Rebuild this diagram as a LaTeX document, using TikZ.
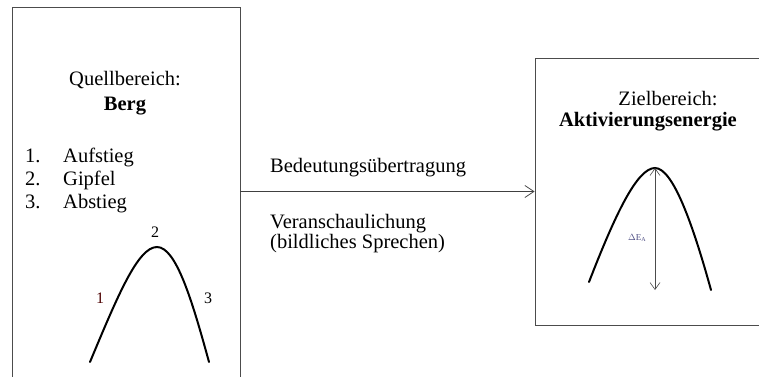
\documentclass[tikz,border=0pt]{standalone}
\usepackage{fontspec}
\setmainfont{Liberation Serif}
\usetikzlibrary{positioning,arrows.meta}
\begin{document}
\begin{tikzpicture}[x=1pt,y=-1pt,every node/.style={font=\fontsize{20.5}{23}\selectfont,inner sep=0pt}]
\useasboundingbox (0,0) rectangle (759,376);
\clip (0,0) rectangle (759,376);
% Boxes for source and target domain
\node[draw=black!70,line width=0.8pt,minimum width=228pt,minimum height=400pt] (quelle) at (126,207) {};
\node[draw=black!70,line width=0.8pt,minimum width=250pt,minimum height=267pt] (ziel) at (660,191.5) {};
% Headings
\node[anchor=base] (qtitel) at (125,85) {Quellbereich:};
\node[anchor=base,font=\fontsize{20.5}{23}\selectfont\bfseries] (qberg) at (125,110) {Berg};
\node[anchor=base] (ztitel) at (668,105) {Zielbereich:};
\node[anchor=base,font=\fontsize{20.5}{23}\selectfont\bfseries] (zakt) at (648,126) {Aktivierungsenergie};
% Numbered list
\foreach \n/\txt/\yy in {1/Aufstieg/162,2/Gipfel/185,3/Abstieg/208} {
  \node[anchor=base west] (nr\n) at (25,\yy) {\n.};
  \node[anchor=base west] (item\n) at (63,\yy) {\txt};
}
% Mountain with labels
\draw[line width=2pt,line cap=round] (90,362) .. controls (118,295) and (138,247) .. (157,247) .. controls (176,247) and (192,300) .. (209,362);
\node[anchor=base,font=\fontsize{16}{18}\selectfont] (lab2) at (155,237) {2};
\node[anchor=base,font=\fontsize{16}{18}\selectfont,text=black!70!red] (lab1) at (100,303) {1};
\node[anchor=base,font=\fontsize{16}{18}\selectfont] (lab3) at (208,303) {3};
% Mapping arrow with its labels
\draw[-{Straight Barb[length=9pt,width=12pt]},black!75,line width=0.8pt] (quelle.east |- ziel.west) -- (ziel.west);
\node[anchor=base west] (bedeutung) at (270,172) {Bedeutungsübertragung};
\node[anchor=base west] (veransch) at (270,228) {Veranschaulichung};
\node[anchor=base west] (bildlich) at (270,248) {(bildliches Sprechen)};
% Activation energy curve
\draw[line width=2pt,line cap=round] (589,282) .. controls (615,215) and (637,168) .. (655,168) .. controls (673,168) and (693,225) .. (711,290);
\coordinate (gipfel) at (655,168);
\coordinate (boden) at (655,290);
\draw[{Straight Barb[length=7pt,width=10pt]}-{Straight Barb[length=7pt,width=10pt]},black!70,line width=0.6pt] (gipfel) -- (boden);
\node[anchor=base west,font=\fontsize{9}{10}\selectfont,text=blue!30!black!70] (dea) at (628,240) {$\Delta$E\textsubscript{A}};
\end{tikzpicture}
\end{document}
